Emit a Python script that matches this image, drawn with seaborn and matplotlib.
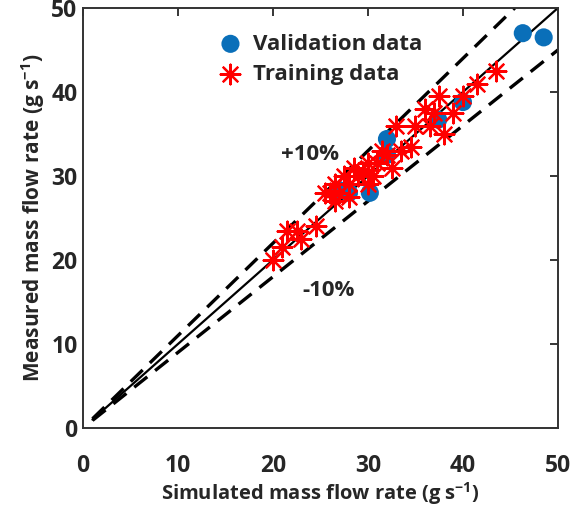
import numpy as np
import matplotlib
matplotlib.use("Agg")
import matplotlib.pyplot as plt
import seaborn as sns

# validation points (simulated, measured)
val_sim = [46.3, 48.5, 40.0, 37.4, 32.0, 32.0, 27.0, 30.2, 28.0]
val_meas = [47.0, 46.5, 38.8, 36.7, 34.4, 32.5, 28.3, 28.0, 28.0]

# training points (simulated, measured)
train_sim = [43.5, 41.5, 40.0, 39.0, 37.5, 37.0, 36.5, 38.0, 36.0, 35.0,
             34.5, 33.5, 33.0, 32.5, 32.0, 31.5, 31.0, 30.5, 30.0, 30.0,
             29.5, 29.0, 28.5, 28.0, 28.0, 27.5, 27.0, 26.5, 26.0, 26.5,
             25.5, 24.5, 23.0, 22.5, 21.5, 21.0, 20.0]
train_meas = [42.5, 41.0, 39.5, 37.5, 39.5, 37.5, 36.0, 35.0, 38.0, 36.0,
              33.5, 33.0, 36.0, 31.0, 32.5, 33.0, 31.5, 30.0, 31.5, 29.0,
              30.5, 30.0, 31.0, 29.0, 27.5, 30.0, 28.0, 27.0, 28.0, 29.0,
              28.0, 24.0, 22.5, 23.5, 23.5, 21.5, 20.0]

sns.set_style("white")
FONT = "Open Sans"
plt.rcParams["font.family"] = [FONT, "DejaVu Sans"]
plt.rcParams["font.weight"] = "bold"
plt.rcParams["mathtext.fontset"] = "custom"
plt.rcParams["mathtext.rm"] = FONT + ":bold"
plt.rcParams["mathtext.it"] = FONT + ":bold"
plt.rcParams["mathtext.bf"] = FONT + ":bold"

fig = plt.figure(figsize=(5.74, 5.08), dpi=100)
ax = fig.add_axes([0.1446, 0.1575, 0.8274, 0.8268])

# reference lines
x1 = np.array([1, 50])
ax.plot(x1, x1, color="black", lw=1.6)
ax.plot(np.array([1, 50 / 1.1]), 1.1 * np.array([1, 50 / 1.1]), color="black",
        lw=2.4, ls=(0, (5, 3)))
ax.plot(x1, 0.9 * x1, color="black", lw=2.4, ls=(0, (5, 3)))

sns.scatterplot(x=val_sim, y=val_meas, ax=ax, color="#0a6fb9", s=170,
                edgecolor="none", label="Validation data", zorder=3)
sns.scatterplot(x=train_sim, y=train_meas, ax=ax, color="red", s=200,
                marker=(8, 2, 0), linewidth=1.6, label="Training data", zorder=4)

ax.text(23.9, 32.5, "+10%", fontsize=16, fontweight="bold", ha="center", va="center")
ax.text(25.8, 16.4, "-10%", fontsize=16, fontweight="bold", ha="center", va="center")

ax.set_xlim(0, 50)
ax.set_ylim(0, 50)
ax.set_xticks([0, 10, 20, 30, 40, 50])
ax.set_yticks([0, 10, 20, 30, 40, 50])
ax.tick_params(direction="in", length=6, width=1.3, top=True, right=True,
               labelsize=16.5)
ax.tick_params(axis="x", pad=19)
ax.tick_params(axis="y", pad=4)
for lab in ax.get_xticklabels() + ax.get_yticklabels():
    lab.set_fontweight("bold")
for sp in ax.spines.values():
    sp.set_linewidth(1.4)
    sp.set_color("#333333")

ax.set_xlabel("Simulated mass flow rate (g s$^{-1}$)", fontsize=14.5,
              fontweight="bold", labelpad=1)
ax.set_ylabel("Measured mass flow rate (g s$^{-1}$)", fontsize=15,
              fontweight="bold", labelpad=3)

leg = ax.legend(loc="upper left", bbox_to_anchor=(0.245, 0.96), frameon=False,
                handletextpad=0.0, labelspacing=0.4, borderaxespad=0,
                prop={"family": FONT, "weight": "bold", "size": 16})

fig.savefig("out.png", dpi=100)
